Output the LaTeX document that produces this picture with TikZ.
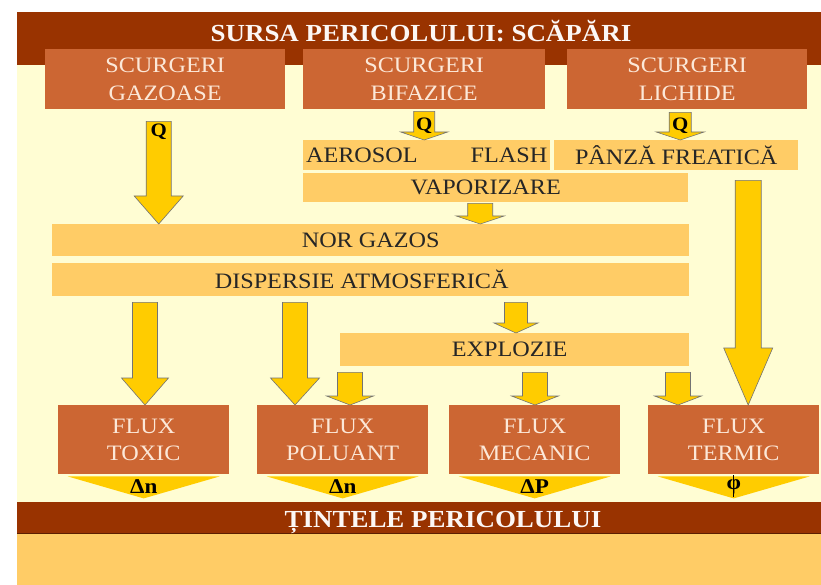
\documentclass[tikz,border=0pt]{standalone}
\usepackage{fontspec}
\setmainfont{Liberation Serif}[FakeStretch=1.1]
\usetikzlibrary{calc}

\definecolor{rust}{HTML}{993300}
\definecolor{brick}{HTML}{CC6633}
\definecolor{cream}{HTML}{FFFDD3}
\definecolor{barorange}{HTML}{FFCC66}
\definecolor{flowyellow}{HTML}{FFCC00}
\definecolor{boxtext}{HTML}{FCE8D8}

% block arrow: start, end, shaft half width, head half width, head length
\newcommand{\flowarrow}[5]{%
  \draw[flow] let \p1=#1, \p2=#2 in
    (\x1-#3,\y1) -- (\x1+#3,\y1) -- (\x1+#3,\y2+#5) -- (\x1+#4,\y2+#5)
    -- (\x1,\y2) -- (\x1-#4,\y2+#5) -- (\x1-#3,\y2+#5) -- cycle;}

\begin{document}
\begin{tikzpicture}[x=1pt,y=-1pt,
  src/.style={fill=brick,text=boxtext,minimum width=240pt,minimum height=60pt,
    anchor=north west,align=center,inner sep=0pt,
    font=\fontsize{22}{27.5}\selectfont},
  flux/.style={src,minimum width=171pt,minimum height=69pt},
  bartext/.style={text=black!85,font=\fontsize{22}{27}\selectfont,inner sep=0pt},
  bar/.style={bartext,fill=barorange,anchor=north west},
  heading/.style={text=white!95!brick,font=\fontsize{24.5}{29}\selectfont\bfseries,anchor=base},
  qlabel/.style={font=\fontsize{19}{22}\selectfont\bfseries,inner sep=0pt},
  dlabel/.style={font=\fontsize{21}{24}\selectfont\bfseries,inner sep=0pt},
  flow/.style={fill=flowyellow,draw=black!55,line width=0.6pt}]
  \useasboundingbox (0,0) rectangle (821,585);
  \fill[white] (0,0) rectangle (821,585);
  \fill[cream] (17,12) rectangle (821,585);
  \fill[rust] (17,12) rectangle (821,65);
  \fill[rust] (17,502) rectangle (821,533);
  \fill[barorange] (17,533) rectangle (821,585);
  \draw[rust!60!black,line width=0.8pt] (17,533) -- (821,533);

  \node[heading] (sursa) at (421,41.5) {SURSA PERICOLULUI: SCĂPĂRI};
  \node[heading] (tinte) at (443,527) {ȚINTELE PERICOLULUI};

  % sources
  \node[src] (gazoase) at (45,49) {SCURGERI\\GAZOASE};
  \node[src,minimum width=242pt] (bifazice) at (303,49) {SCURGERI\\BIFAZICE};
  \node[src] (lichide) at (567,49) {SCURGERI\\LICHIDE};

  % phenomena
  \node[bar,minimum width=247pt,minimum height=30pt] (aerosol) at (303,140) {AEROSOL\hspace{53pt}FLASH};
  \node[bar,minimum width=244pt,minimum height=30pt] (panza) at (554,140) {PÂNZĂ FREATICĂ};
  \node[bar,minimum width=385pt,minimum height=29pt,
    label={[bartext,xshift=-10pt]center:VAPORIZARE}] (vapor) at (303,173) {};
  \node[bar,minimum width=637pt,minimum height=32pt] (nor) at (52,224) {NOR GAZOS};
  \node[bar,minimum width=637pt,minimum height=33pt,
    label={[bartext,xshift=-9pt]center:DISPERSIE ATMOSFERICĂ}] (dispersie) at (52,263) {};
  \node[bar,minimum width=349pt,minimum height=33pt,
    label={[bartext,xshift=-5pt]center:EXPLOZIE}] (explozie) at (340,333) {};

  % fluxes
  \node[flux] (toxic) at (58,405) {FLUX\\TOXIC};
  \node[flux] (poluant) at (257,405) {FLUX\\POLUANT};
  \node[flux] (mecanic) at (449,405) {FLUX\\MECANIC};
  \node[flux] (termic) at (648,405) {FLUX\\TERMIC};

  \foreach \b/\t in {toxic/Δn,poluant/Δn,mecanic/ΔP,termic/φ}{
    \fill[flowyellow] ($(\b.south)+(-76,2)$) -- ($(\b.south)+(76,2)$) -- ($(\b.south)+(0,24)$) -- cycle;
    \node[dlabel] (\b-t) at ($(\b.south)+(0,12.5)$) {\t};
  }
  \draw[black,line width=1pt] ($(termic.south)+(0,1)$) -- ($(termic.south)+(0,23)$);

  % arrows
  \flowarrow{($(gazoase.south)+(-6.5,12)$)}{(nor.north)}{12.5pt}{24.5pt}{28pt}
  \flowarrow{($(bifazice.south)+(0,2)$)}{(aerosol.north)}{10.5pt}{23.5pt}{8pt}
  \flowarrow{($(lichide.south)+(-7,3)$)}{(panza.north)}{11pt}{24pt}{8pt}
  \flowarrow{($(vapor.south)+(-15.5,1)$)}{(nor.north)}{12.5pt}{24pt}{8pt}
  \flowarrow{($(panza.south)+(72,10)$)}{(termic.north)}{13pt}{24.5pt}{57pt}
  \flowarrow{($(dispersie.south west)+(93,6)$)}{(toxic.north)}{12.5pt}{23.5pt}{27pt}
  \flowarrow{($(dispersie.south west)+(243,6)$)}{(poluant.north)}{12.5pt}{24.5pt}{27pt}
  \flowarrow{($(dispersie.south west)+(464,6)$)}{(explozie.north)}{11.5pt}{22pt}{10pt}
  \flowarrow{($(explozie.south west)+(10,6)$)}{(poluant.north)}{12.5pt}{23.5pt}{9pt}
  \flowarrow{($(explozie.south west)+(195,6)$)}{(mecanic.north)}{12.5pt}{23.5pt}{9pt}
  \flowarrow{($(explozie.south west)+(338,6)$)}{(termic.north)}{12.5pt}{23.5pt}{9pt}

  \node[qlabel] (q1) at ($(gazoase.south)+(-6.5,22)$) {Q};
  \node[qlabel] (q2) at ($(bifazice.south)+(0,16)$) {Q};
  \node[qlabel] (q3) at ($(lichide.south)+(-7,16)$) {Q};
\end{tikzpicture}
\end{document}
